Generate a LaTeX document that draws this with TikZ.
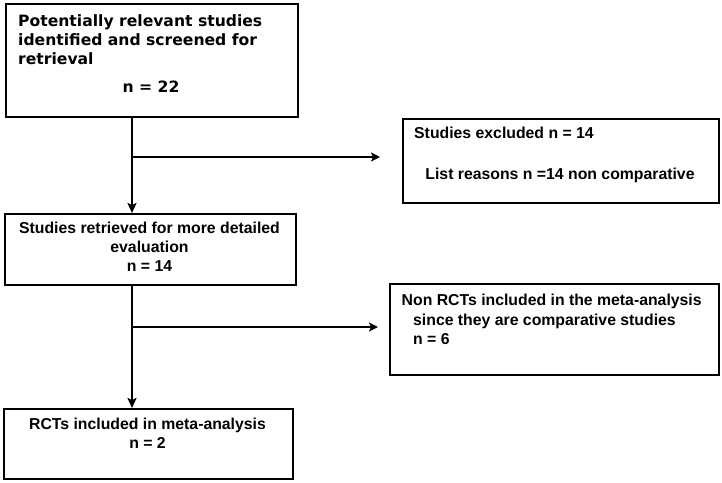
\documentclass[tikz,border=0pt]{standalone}
\usepackage{fontspec}
\usepackage{tikz}
\usetikzlibrary{arrows.meta}
\newfontfamily\verdfont{DejaVu Sans}
\newfontfamily\arialfont{Liberation Sans}

\begin{document}
\begin{tikzpicture}[x=1pt,y=-1pt]
\tikzstyle{box}=[draw,line width=1.5pt,rectangle,anchor=north west,inner sep=0pt];
\tikzstyle{vtxt}=[inner sep=0pt,font=\verdfont\bfseries\fontsize{15.6}{18.7}\selectfont];
\tikzstyle{atxt}=[inner sep=0pt,font=\arialfont\bfseries\fontsize{15.8}{18.6}\selectfont];
\tikzstyle{varr}=[line width=2.4pt,-{Stealth[length=10pt,width=9pt,inset=2pt]}];
\tikzstyle{harr}=[line width=1.8pt,-{Stealth[length=9pt,width=9pt,inset=2pt]}];
\useasboundingbox (0,0) rectangle (722,482);

\node[box,minimum width=292pt,minimum height=113pt] (scr) at (5,3) {};
\node[box,minimum width=316pt,minimum height=84pt] (exc) at (402,118) {};
\node[box,minimum width=291pt,minimum height=71pt] (ret) at (4,213) {};
\node[box,minimum width=329pt,minimum height=91pt] (non) at (389,283) {};
\node[box,minimum width=289pt,minimum height=70pt] (rct) at (3,408) {};

\node[vtxt,anchor=base west,align=left] (scrtxt) at (18,64)
	{Potentially relevant studies\\identified and screened for\\retrieval};
\node[vtxt,anchor=base] (scrn) at (151,92) {n = 22};
\node[atxt,anchor=base west] (exctxt) at (414,138) {Studies excluded n = 14};
\node[atxt,anchor=base] (excwhy) at (560,179) {List reasons n =14 non comparative};
\node[atxt,anchor=base,align=center] (rettxt) at (149.5,271)
	{Studies retrieved for more detailed\\evaluation\\n = 14};
\node[atxt,anchor=base west] (nontxt) at (401.5,305) {Non RCTs included in the meta-analysis};
\node[atxt,anchor=base west,align=left] (nonn) at (413,344)
	{since they are comparative studies\\n = 6};
\node[atxt,anchor=base,align=center] (rcttxt) at (147.5,448)
	{RCTs included in meta-analysis\\n = 2};

\coordinate (spine) at (132,0);
\coordinate (j1) at (132,157);
\coordinate (j2) at (132,327);
\draw[varr] (spine |- scr.south) -- (spine |- ret.north);
\draw[varr] (spine |- ret.south) -- (spine |- rct.north);
\draw[harr,shorten >=22pt] (j1) -- (j1 -| exc.west);
\draw[harr,shorten >=11pt] (j2) -- (j2 -| non.west);
\end{tikzpicture}
\end{document}
